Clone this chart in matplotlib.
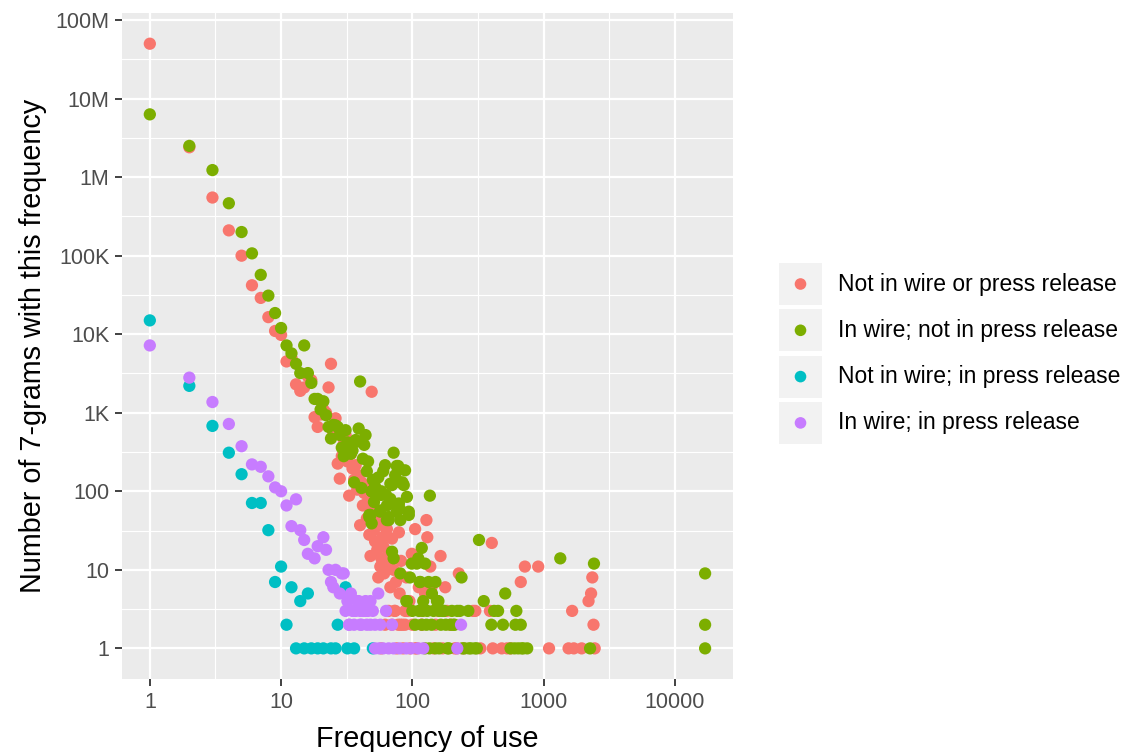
import numpy as np
import matplotlib
matplotlib.use("Agg")
from matplotlib import pyplot as plt
from matplotlib.patches import Rectangle
from matplotlib.ticker import FixedLocator, NullFormatter

plt.rcParams['font.family'] = ['Liberation Sans', 'DejaVu Sans']

# series: frequency of use (x) and number of 7-grams with that frequency (y)
labels = ["Not in wire or press release", "In wire; not in press release",
          "Not in wire; in press release", "In wire; in press release"]
colors = ["#F8766D", "#7CAE00", "#00BFC4", "#C77CFF"]

red_x = [1, 2, 3, 4, 5, 6, 7, 8, 9, 10, 11, 12, 13, 14, 15, 16, 17, 18, 19, 20,
         21, 22, 23, 24, 25, 26, 27, 28, 29, 30, 31, 32, 33, 34, 35, 36, 37, 38, 39,
         40, 41, 42, 43, 44, 45, 46, 47, 48, 49, 50, 51, 52, 53, 54, 55, 56, 57, 58,
         59, 60, 61, 62, 64, 65, 66, 68, 70, 72, 74, 75, 76, 78, 79, 80, 82, 84, 85,
         88, 90, 92, 95, 99, 100, 105, 108, 112, 118, 125, 128, 130, 137, 140, 145,
         150, 158, 164, 170, 178, 183, 195, 210, 218, 226, 245, 290, 302, 330, 390,
         403, 410, 480, 527, 560, 670, 720, 910, 1100, 1550, 1650, 1700, 1950, 2200,
         2300, 2350, 2400, 2450, 70, 66, 88, 96, 105, 118, 62, 58, 73, 81]
red_y = [50000000, 2400000, 550000, 210000, 100000, 42000, 29000, 16500, 11000, 9800,
         4500, 5000, 2300, 1900, 2100, 2900, 2600, 880, 660, 950, 1100, 1000, 2100,
         4200, 560, 850, 225, 145, 280, 400, 520, 240, 88, 300, 195, 140, 215, 105,
         160, 37, 130, 66, 95, 110, 45, 75, 28, 15, 1850, 60, 32, 23, 40, 18, 8, 50,
         11, 14, 26, 20, 9, 35, 33, 12, 17, 6, 25, 10, 3, 7, 1, 2, 30, 5, 13, 2, 1,
         3, 8, 3, 4, 16, 2, 33, 1, 6, 2, 5, 43, 26, 11, 6, 1, 2, 3, 15, 1, 6, 3, 2, 1,
         1, 9, 1, 3, 3, 1, 3, 22, 1, 1, 1, 1, 7, 11, 11, 1, 1, 3, 1, 1, 4, 5, 8, 2, 1,
         2, 3, 2, 1, 1, 3, 2, 1, 3, 2]

green_x = [1, 2, 3, 4, 5, 6, 7, 8, 9, 10, 11, 12, 13, 14, 15, 16, 17, 18, 19, 20,
           21, 22, 23, 24, 25, 26, 27, 28, 29, 30, 31, 32, 34, 35, 36, 37, 38, 39, 40,
           41, 42, 43, 44, 45, 46, 47, 48, 49, 50, 51, 52, 53, 55, 57, 58, 60, 62, 63,
           64, 66, 67, 68, 70, 72, 74, 76, 78, 79, 80, 81, 84, 86, 88, 90, 91, 94, 96,
           99, 100, 105, 108, 111, 114, 115, 118, 121, 125, 130, 133, 136, 140, 141,
           145, 150, 154, 158, 165, 170, 180, 190, 200, 210, 220, 237, 250, 267, 280,
           300, 322, 350, 400, 490, 510, 560, 600, 610, 620, 640, 670, 680, 1340, 2260,
           2420, 17000, 17000, 17000, 49, 58, 68, 57, 64, 76, 81, 94, 47, 66, 49, 70,
           72, 81, 91, 112, 120, 128, 160, 175, 195, 230, 125, 150, 118, 135, 160, 185,
           205, 240, 270, 310, 420, 450, 700, 750]
green_y = [6300000, 2500000, 1230000, 465000, 200000, 107000, 57000, 31000, 18600,
           12000, 7200, 5700, 4200, 3200, 7200, 3200, 2400, 1500, 1500, 1100, 1400, 930,
           660, 470, 700, 690, 660, 520, 360, 280, 600, 420, 300, 330, 130, 450, 430,
           630, 2500, 110, 260, 390, 520, 180, 240, 50, 50, 100, 140, 73, 115, 95, 150,
           55, 100, 180, 215, 90, 43, 47, 70, 125, 120, 310, 160, 210, 210, 70, 60, 130,
           130, 120, 185, 4, 85, 50, 8, 12, 3, 2, 12, 14, 7, 7, 19, 4, 12, 3, 7, 88, 2, 5,
           3, 1, 4, 4, 2, 3, 2, 1, 3, 2, 3, 8, 1, 3, 1, 1, 24, 4, 2, 2, 5, 1, 1, 2, 3,
           1, 2, 1, 14, 1, 12, 9, 2, 1, 100, 90, 80, 57, 66, 55, 43, 55, 47, 43, 39, 17,
           14, 9, 4, 3, 3, 2, 3, 3, 2, 3, 1, 7, 2, 1, 1, 1, 2, 1, 1, 1, 3, 3, 1, 1]

cyan_x = [1, 2, 3, 4, 5, 6, 7, 8, 9, 10, 11, 12, 13, 14, 15, 16, 17, 19, 21, 24,
          26, 27, 31, 32, 36, 50]
cyan_y = [15000, 2200, 680, 310, 165, 71, 71, 32, 7, 11, 2, 6, 1, 4, 1, 5, 1, 1, 1,
          1, 1, 2, 6, 1, 1, 1]

purple_x = [1, 2, 3, 4, 5, 6, 7, 8, 9, 10, 11, 12, 13, 14, 15, 16, 18, 19, 21, 22,
            23, 24, 25, 26, 28, 29, 30, 31, 32, 33, 34, 35, 36, 37, 38, 39, 40, 41,
            42, 44, 45, 46, 48, 50, 52, 55, 57, 63, 70, 235, 52, 56, 60, 66, 72, 80,
            90, 98, 111, 121, 220, 33, 36, 40, 44, 48]
purple_y = [7200, 2800, 1370, 720, 375, 220, 205, 155, 112, 100, 66, 36, 79, 32, 24,
            16, 14, 20, 26, 18, 10, 7, 6, 10, 5, 9, 9, 3, 4, 2, 5, 3, 2, 3, 4, 4, 3, 2,
            3, 4, 2, 3, 4, 3, 2, 5, 2, 3, 2, 2, 1, 1, 1, 1, 1, 1, 1, 1, 1, 1, 1, 2, 3,
            2, 3, 2]

series_x = [red_x, green_x, cyan_x, purple_x]
series_y = [red_y, green_y, cyan_y, purple_y]

fig = plt.figure(figsize=(11.27, 7.52), dpi=100)
ax = fig.add_axes([122 / 1127, 73 / 752, 611 / 1127, 666 / 752])
ax.set_facecolor("#EBEBEB")

for xs, ys, c in zip(series_x, series_y, colors):
    ax.scatter(xs, ys, s=78, color=c, edgecolors="none", zorder=3)

ax.set_xscale("log")
ax.set_yscale("log")
ax.set_xlim(10 ** -0.212, 10 ** 4.443)
ax.set_ylim(10 ** -0.39, 10 ** 8.09)

xt = [1, 10, 100, 1000, 10000]
yt = [1, 10, 100, 1e3, 1e4, 1e5, 1e6, 1e7, 1e8]
yt_lab = ["1", "10", "100", "1K", "10K", "100K", "1M", "10M", "100M"]
ax.xaxis.set_major_locator(FixedLocator(xt))
ax.set_xticklabels([str(v) for v in xt])
ax.yaxis.set_major_locator(FixedLocator(yt))
ax.set_yticklabels(yt_lab)
ax.xaxis.set_minor_locator(FixedLocator([10 ** (k + 0.5) for k in range(-1, 5)]))
ax.yaxis.set_minor_locator(FixedLocator([10 ** (k + 0.5) for k in range(-1, 9)]))
ax.xaxis.set_minor_formatter(NullFormatter())
ax.yaxis.set_minor_formatter(NullFormatter())

ax.grid(which="major", color="white", linewidth=1.6, zorder=1)
ax.grid(which="minor", color="white", linewidth=0.8, zorder=1)
ax.set_axisbelow(True)
for s in ax.spines.values():
    s.set_visible(False)
ax.tick_params(which="major", length=5, width=1.3, color="#333333",
               labelsize=15.5, labelcolor="#4D4D4D", pad=4)
ax.tick_params(which="minor", length=0)

ax.set_xlabel("Frequency of use", fontsize=20.7, color="black", labelpad=9)
ax.set_ylabel("Number of 7-grams with this frequency", fontsize=20.7,
              color="black", labelpad=6)

# legend drawn in pixel coordinates
lax = fig.add_axes([0, 0, 1, 1], zorder=-1)
lax.set_xlim(0, 1127)
lax.set_ylim(752, 0)
lax.axis("off")
for i, (lab, c) in enumerate(zip(labels, colors)):
    yc = 284 + 46.3 * i
    lax.add_patch(Rectangle((779, yc - 21), 43, 42, facecolor="#F2F2F2",
                            edgecolor="none"))
    lax.scatter([800.5], [yc], s=70, color=c, edgecolors="none")
    lax.text(838, yc, lab, fontsize=16.5, va="center", ha="left", color="black")

fig.savefig("out.png", dpi=100)
